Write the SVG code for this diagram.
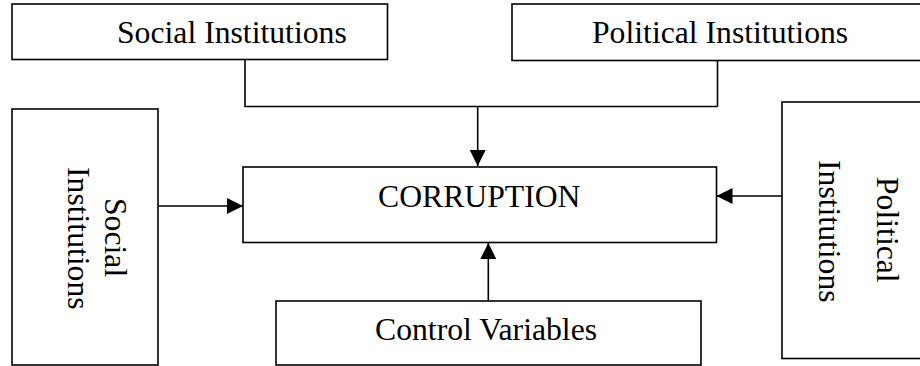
<svg xmlns="http://www.w3.org/2000/svg" width="920" height="366" viewBox="0 0 920 366">
<defs>
<style>
.box{fill:#fff;stroke:#000;stroke-width:1.6}
.ln{fill:none;stroke:#000;stroke-width:1.6}
.t{font-family:"Liberation Serif","Times New Roman",serif;font-size:31.7px;fill:#000}
</style>
<marker id="ah" markerUnits="userSpaceOnUse" markerWidth="16" markerHeight="16" viewBox="0 0 16 16" refX="16" refY="8" orient="auto">
<path d="M0,0 L16,8 L0,16 Z" fill="#000"/>
</marker>
</defs>
<rect width="920" height="366" fill="#fff"/>
<g id="connectors">
<path class="ln" d="M245,60 V106.5 H717.5 M717.5,61 V106.5"/>
<path class="ln" d="M477.7,106.5 V166" marker-end="url(#ah)"/>
<path class="ln" d="M158.5,206 H243" marker-end="url(#ah)"/>
<path class="ln" d="M782,196 H716.5" marker-end="url(#ah)"/>
<path class="ln" d="M488.3,300.5 V243" marker-end="url(#ah)"/>
</g>
<g id="social-top">
<rect class="box" x="12" y="4" width="375.5" height="55.5"/>
<text class="t" x="117" y="43.3">Social Institutions</text>
</g>
<g id="political-top">
<rect class="box" x="512" y="4" width="412" height="56.5"/>
<text class="t" x="592" y="43.3">Political Institutions</text>
</g>
<g id="corruption">
<rect class="box" x="243" y="167" width="473.5" height="75.5"/>
<text class="t" x="378" y="207">CORRUPTION</text>
</g>
<g id="control">
<rect class="box" x="276" y="301" width="425" height="64"/>
<text class="t" x="375" y="340">Control Variables</text>
</g>
<g id="social-left">
<rect class="box" x="12" y="109" width="146" height="256"/>
<text class="t" transform="translate(105,198) rotate(90)">Social</text>
<text class="t" transform="translate(68,167) rotate(90)">Institutions</text>
</g>
<g id="political-right">
<rect class="box" x="782" y="102" width="142" height="256.5"/>
<text class="t" transform="translate(877,177) rotate(90)">Political</text>
<text class="t" transform="translate(819,160) rotate(90)">Institutions</text>
</g>
</svg>
